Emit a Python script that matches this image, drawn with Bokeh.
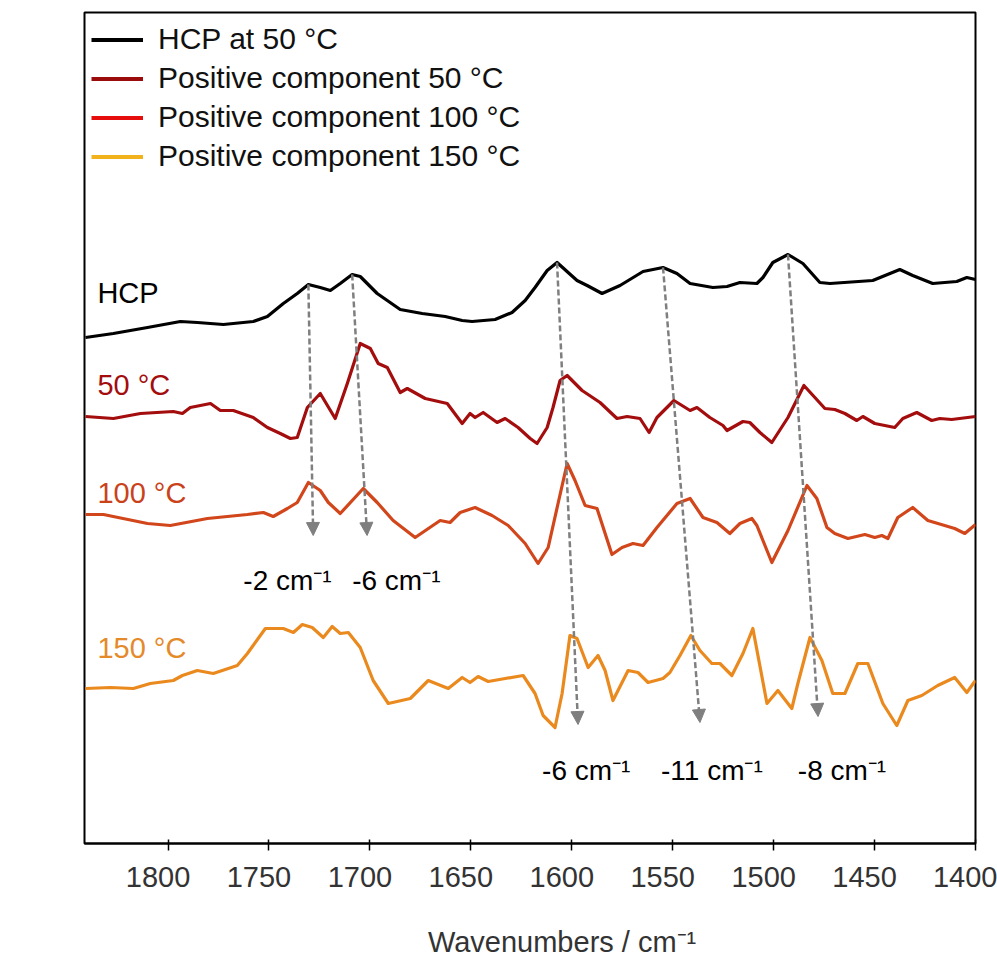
from bokeh.plotting import figure
from bokeh.models import (Range1d, Arrow, NormalHead, ColumnDataSource, Legend, LegendItem,
                          FixedTicker, LinearAxis)
from bokeh.core.properties import value
from bokeh.embed import file_html
from bokeh.resources import INLINE

FONT = "Liberation Sans"

# ---------------- data (wavenumber / cm-1, offset absorbance a.u.) ----------------
hcp_wn = [1840.9, 1827.1, 1810.2, 1793.9, 1785.5, 1772.6, 1757.8, 1750.8, 1742.9, 1736.0,
          1730.5, 1724.6, 1719.6, 1714.7, 1708.8, 1704.8, 1696.4, 1685.0, 1674.1, 1662.7,
          1654.3, 1649.4, 1638.0, 1629.6, 1623.1, 1618.2, 1612.2, 1607.3, 1597.4, 1592.4,
          1585.0, 1576.1, 1564.7, 1554.8, 1547.9, 1541.4, 1530.1, 1523.1, 1516.7, 1508.3,
          1505.3, 1500.4, 1492.9, 1485.5, 1477.1, 1472.1, 1450.9, 1437.5, 1431.1, 1421.2,
          1409.3, 1404.3, 1400.0]
hcp_y = [5.06, 5.10, 5.16, 5.22, 5.21, 5.19, 5.22, 5.27, 5.40, 5.50,
         5.59, 5.56, 5.53, 5.60, 5.69, 5.67, 5.50, 5.34, 5.30, 5.27,
         5.23, 5.22, 5.24, 5.31, 5.43, 5.56, 5.73, 5.81, 5.63, 5.58,
         5.50, 5.58, 5.72, 5.76, 5.70, 5.60, 5.56, 5.57, 5.61, 5.60,
         5.66, 5.81, 5.89, 5.80, 5.61, 5.60, 5.63, 5.74, 5.68, 5.60,
         5.62, 5.66, 5.64]

c50_wn = [1840.9, 1827.1, 1813.7, 1797.4, 1792.9, 1789.0, 1779.0, 1774.1, 1767.7, 1757.8,
          1750.8, 1744.4, 1739.4, 1736.0, 1731.0, 1724.6, 1717.2, 1711.2, 1704.8, 1699.8,
          1695.9, 1691.4, 1685.0, 1681.5, 1672.6, 1661.7, 1654.3, 1650.4, 1647.9, 1643.9,
          1637.0, 1633.0, 1626.6, 1620.6, 1617.2, 1612.2, 1609.3, 1605.8, 1602.3, 1594.9,
          1586.0, 1577.6, 1572.6, 1566.2, 1561.7, 1557.8, 1549.4, 1541.4, 1538.0, 1531.6,
          1525.1, 1523.1, 1515.2, 1511.8, 1506.8, 1500.9, 1492.9, 1485.0, 1474.6, 1469.7,
          1464.7, 1458.8, 1455.8, 1449.9, 1440.0, 1436.0, 1429.1, 1421.7, 1417.7, 1411.8,
          1400.0]
c50_y = [4.27, 4.25, 4.30, 4.32, 4.30, 4.36, 4.40, 4.33, 4.33, 4.26,
         4.16, 4.10, 4.05, 4.06, 4.36, 4.50, 4.25, 4.60, 5.00, 4.95,
         4.80, 4.76, 4.51, 4.55, 4.45, 4.40, 4.20, 4.30, 4.26, 4.31,
         4.21, 4.25, 4.16, 4.05, 4.00, 4.16, 4.36, 4.63, 4.68, 4.53,
         4.41, 4.25, 4.27, 4.25, 4.11, 4.26, 4.43, 4.33, 4.36, 4.26,
         4.18, 4.13, 4.22, 4.21, 4.11, 4.01, 4.26, 4.58, 4.35, 4.34,
         4.30, 4.23, 4.27, 4.20, 4.16, 4.25, 4.31, 4.23, 4.25, 4.24,
         4.27]

c100_wn = [1840.9, 1832.0, 1810.2, 1798.9, 1780.5, 1760.7, 1752.8, 1747.9, 1740.9, 1736.0,
           1730.5, 1724.6, 1720.6, 1714.7, 1703.3, 1696.4, 1688.5, 1677.6, 1665.2, 1660.3,
           1655.3, 1647.9, 1639.5, 1631.5, 1623.1, 1616.7, 1611.7, 1606.8, 1602.3, 1598.4,
           1593.4, 1587.5, 1580.1, 1575.1, 1569.7, 1564.7, 1557.8, 1547.9, 1541.4, 1535.0,
           1528.1, 1521.7, 1516.7, 1510.8, 1508.3, 1504.3, 1500.9, 1492.9, 1483.5, 1478.6,
           1473.6, 1469.7, 1463.2, 1454.8, 1449.9, 1446.4, 1443.4, 1438.5, 1431.1, 1423.6,
           1410.3, 1405.3, 1400.0]
c100_y = [3.29, 3.29, 3.20, 3.18, 3.25, 3.29, 3.31, 3.27, 3.35, 3.41,
          3.61, 3.53, 3.41, 3.30, 3.55, 3.41, 3.23, 3.06, 3.23, 3.21,
          3.31, 3.36, 3.28, 3.18, 3.00, 2.80, 2.96, 3.40, 3.80, 3.63,
          3.38, 3.35, 2.89, 2.96, 3.00, 2.98, 3.16, 3.40, 3.45, 3.26,
          3.21, 3.10, 3.20, 3.25, 3.18, 2.98, 2.81, 3.13, 3.58, 3.45,
          3.16, 3.10, 3.05, 3.09, 3.06, 3.08, 3.05, 3.26, 3.36, 3.23,
          3.15, 3.10, 3.19]

c150_wn = [1840.9, 1828.5, 1817.2, 1808.8, 1797.4, 1792.9, 1785.5, 1777.6, 1765.7, 1760.7,
           1751.8, 1742.9, 1737.9, 1733.5, 1728.6, 1723.1, 1718.7, 1714.7, 1710.7, 1704.8,
           1698.4, 1690.9, 1680.0, 1671.1, 1661.2, 1654.3, 1650.4, 1646.4, 1641.4, 1633.0,
           1624.1, 1618.2, 1614.2, 1608.3, 1604.8, 1600.9, 1597.4, 1591.9, 1587.0, 1583.5,
           1579.6, 1572.1, 1567.2, 1562.2, 1554.8, 1551.4, 1546.4, 1541.0, 1536.5, 1530.6,
           1526.6, 1520.7, 1515.2, 1510.3, 1503.3, 1497.9, 1491.0, 1488.0, 1482.0, 1476.1,
           1470.7, 1464.7, 1458.3, 1453.3, 1445.9, 1439.0, 1433.5, 1426.6, 1418.7, 1410.3,
           1404.3, 1400.0]
c150_y = [1.55, 1.56, 1.55, 1.60, 1.63, 1.68, 1.73, 1.70, 1.78, 1.90,
          2.15, 2.15, 2.11, 2.19, 2.16, 2.06, 2.17, 2.10, 2.11, 1.96,
          1.63, 1.40, 1.45, 1.63, 1.55, 1.66, 1.61, 1.67, 1.62, 1.65,
          1.68, 1.50, 1.28, 1.16, 1.50, 2.08, 2.05, 1.76, 1.88, 1.73,
          1.43, 1.73, 1.71, 1.61, 1.65, 1.71, 1.88, 2.08, 1.93, 1.80,
          1.80, 1.68, 1.90, 2.15, 1.40, 1.53, 1.35, 1.60, 2.06, 1.83,
          1.50, 1.50, 1.80, 1.80, 1.40, 1.18, 1.43, 1.48, 1.58, 1.66,
          1.51, 1.63]

# peak-shift arrows: from HCP band to shifted band
shift_from_wn = [1730.5, 1708.8, 1607.3, 1554.8, 1492.9]
shift_from_y = [5.59, 5.69, 5.81, 5.76, 5.89]
shift_to_wn = [1728.1, 1701.4, 1596.9, 1536.5, 1478.0]
shift_to_y = [3.08, 3.08, 1.19, 1.21, 1.27]
shift_labels = ["-2 cm\u207b\u00b9", "-6 cm\u207b\u00b9", "-6 cm\u207b\u00b9", "-11 cm\u207b\u00b9", "-8 cm\u207b\u00b9"]
shift_label_wn = [1762.7, 1708.8, 1614.7, 1555.8, 1488.0]
shift_label_y = [2.63, 2.63, 0.73, 0.73, 0.73]

trace_names = ["HCP", "50 \u00b0C", "100 \u00b0C", "150 \u00b0C"]
trace_name_wn = [1835.0, 1835.0, 1835.0, 1835.0]
trace_name_y = [5.51, 4.59, 3.51, 1.96]
trace_colors = ["#000000", "#a30d0d", "#d2461b", "#ea8a1e"]
trace_label_colors = ["#000000", "#a30d0d", "#c9421a", "#e48a2a"]

legend_labels = ["HCP at 50 \u00b0C", "Positive component 50 \u00b0C",
                 "Positive component 100 \u00b0C", "Positive component 150 \u00b0C"]
legend_colors = ["#000000", "#9b0b0b", "#e60d0d", "#f2b21c"]

x_ticks = [1800, 1750, 1700, 1650, 1600, 1550, 1500, 1450, 1400]
x_title = "Wavenumbers / cm\u207b\u00b9"
x_title_at = 1604.8          # wavenumber under which the axis title is centred

# ---------------- figure ----------------
p = figure(width=997, height=961, output_backend="svg", toolbar_location=None,
           x_range=Range1d(1841.4, 1400), y_range=Range1d(0, 8.31),
           y_axis_location=None,
           min_border_left=84, min_border_right=22, min_border_top=12, min_border_bottom=118)
p.background_fill_color = "white"
p.border_fill_color = "white"
p.outline_line_color = "black"
p.outline_line_width = 2
p.xgrid.visible = False
p.ygrid.visible = False

# axis line + tick marks at the true positions
ax = p.xaxis[0]
ax.ticker = FixedTicker(ticks=x_ticks)
ax.axis_line_color = "black"
ax.axis_line_width = 2
ax.major_tick_in = 4
ax.major_tick_out = 7
ax.major_tick_line_width = 1.5
ax.major_tick_line_color = "black"
ax.minor_tick_line_color = None
ax.major_label_text_font_size = "0px"
ax.major_label_standoff = 0
ax.major_label_overrides = {t: "" for t in x_ticks}

# tick labels: in the original they sit about 10 px left of their ticks
p.extra_x_ranges = {"labels": Range1d(1841.4 - 4.95, 1400 - 4.95)}
lab_ax = LinearAxis(x_range_name="labels", ticker=FixedTicker(ticks=x_ticks))
lab_ax.axis_line_color = None
lab_ax.major_tick_line_color = None
lab_ax.minor_tick_line_color = None
lab_ax.major_tick_in = 0
lab_ax.major_tick_out = 0
lab_ax.major_label_standoff = 16
lab_ax.major_label_text_font = FONT
lab_ax.major_label_text_font_size = "29px"
lab_ax.major_label_text_color = "#333333"
p.add_layout(lab_ax, "below")

# axis title (off-centre to the right, as in the original)
title_ax = LinearAxis(ticker=FixedTicker(ticks=[x_title_at]))
title_ax.major_label_overrides = {x_title_at: x_title}
title_ax.axis_line_color = None
title_ax.major_tick_line_color = None
title_ax.minor_tick_line_color = None
title_ax.major_tick_in = 0
title_ax.major_tick_out = 0
title_ax.major_label_standoff = 36
title_ax.major_label_text_font = FONT
title_ax.major_label_text_font_size = "29px"
title_ax.major_label_text_color = "#333333"
p.add_layout(title_ax, "below")

series = [(hcp_wn, hcp_y), (c50_wn, c50_y), (c100_wn, c100_y), (c150_wn, c150_y)]
for (xs, ys), col in zip(series, trace_colors):
    p.line(xs, ys, line_color=col, line_width=3.2, line_join="round")

# arrows
arr_src = ColumnDataSource(dict(x0=shift_from_wn, y0=shift_from_y, x1=shift_to_wn, y1=shift_to_y))
p.add_layout(Arrow(x_start="x0", y_start="y0", x_end="x1", y_end="y1", source=arr_src,
                   line_color="#7f7f7f", line_width=2.5, line_dash="6 3",
                   end=NormalHead(size=13, fill_color="#7f7f7f", line_color="#7f7f7f", line_width=1)))

# shift labels
p.text(x=shift_label_wn, y=shift_label_y, text=shift_labels,
       text_font=value(FONT), text_font_size=value("28px"), text_color="#000000",
       text_align="left", text_baseline="middle")

# trace names
p.text(x=trace_name_wn, y=trace_name_y, text=trace_names, text_color=trace_label_colors,
       text_font=value(FONT), text_font_size=value("29px"),
       text_align="left", text_baseline="middle")

# legend (its own colours); dummy renderers sit outside the visible range
items = []
for lab, col in zip(legend_labels, legend_colors):
    r = p.line(x=[3000, 3001], y=[-50, -50], line_color=col, line_width=4)
    items.append(LegendItem(label=lab, renderers=[r]))
legend = Legend(items=items, location=(7, 670), glyph_width=52, glyph_height=31,
                label_height=31, spacing=5, label_standoff=15, padding=0, margin=0,
                label_text_font=FONT, label_text_font_size="30px", label_text_color="#111111",
                border_line_color=None, background_fill_alpha=0)
p.add_layout(legend)

open("out.html", "w").write(file_html(p, INLINE))
